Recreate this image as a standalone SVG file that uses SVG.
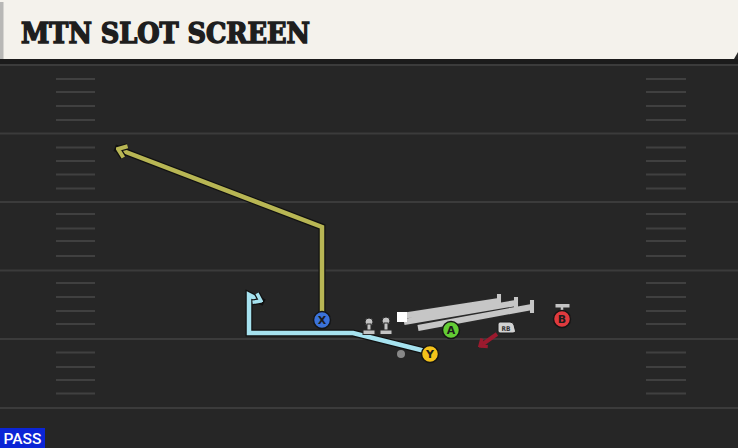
<svg xmlns="http://www.w3.org/2000/svg" width="738" height="448" viewBox="0 0 738 448">
<defs>
<style>
.yard{stroke:#3b3b3b;stroke-width:2}
.hash{stroke:#404040;stroke-width:2}
.out{fill:none;stroke:#111;stroke-linejoin:miter;stroke-linecap:square}
.yl{fill:none;stroke:#b8b654;stroke-width:4.5;stroke-linejoin:miter}
.bl{fill:none;stroke:#a6e2ef;stroke-width:4.5;stroke-linejoin:miter}
.gr{fill:none;stroke:#c6c6c6;stroke-width:6;stroke-linecap:butt}
.grout{fill:none;stroke:#2a2a2a;stroke-width:8}
.lbl{font-family:"DejaVu Sans","Liberation Sans",sans-serif;font-weight:bold;font-size:11px;fill:#1c1c1c;text-anchor:middle}
.pc{stroke:#151515;stroke-width:1.5}
.ol{fill:#c4c4c4;stroke:#2a2a2a;stroke-width:1}
</style>
<marker id="ay" markerUnits="userSpaceOnUse" viewBox="-12 -9 14 18" markerWidth="14" markerHeight="18" refX="0" refY="0" orient="auto">
<path d="M-8,-6 L0,0 L-8,6" fill="none" stroke="#111" stroke-width="6.5"/>
<path d="M-8,-6 L0,0 L-8,6" fill="none" stroke="#b8b654" stroke-width="4"/>
</marker>
<marker id="ab" markerUnits="userSpaceOnUse" viewBox="-12 -9 14 18" markerWidth="14" markerHeight="18" refX="0" refY="0" orient="auto">
<path d="M-7,-5 L0,0 L-7,5" fill="none" stroke="#111" stroke-width="6"/>
<path d="M-7,-5 L0,0 L-7,5" fill="none" stroke="#a6e2ef" stroke-width="3.5"/>
</marker>
<marker id="ar" markerUnits="userSpaceOnUse" viewBox="-12 -9 14 18" markerWidth="14" markerHeight="18" refX="0" refY="0" orient="auto">
<path d="M-6,-5 L0,0 L-6,5" fill="none" stroke="#9b1a2e" stroke-width="3.5"/>
</marker>
</defs>
<rect x="0" y="0" width="738" height="448" fill="#262626"/>
<g id="field">
<line class="yard" x1="0" y1="65" x2="738" y2="65"/>
<line class="yard" x1="0" y1="133.5" x2="738" y2="133.5"/>
<line class="yard" x1="0" y1="202" x2="738" y2="202"/>
<line class="yard" x1="0" y1="270.5" x2="738" y2="270.5"/>
<line class="yard" x1="0" y1="339" x2="738" y2="339"/>
<line class="yard" x1="0" y1="408" x2="738" y2="408"/>
<g class="hash">
<line x1="56" y1="79" x2="95" y2="79"/><line x1="56" y1="92" x2="95" y2="92"/><line x1="56" y1="106" x2="95" y2="106"/><line x1="56" y1="120" x2="95" y2="120"/>
<line x1="56" y1="147.5" x2="95" y2="147.5"/><line x1="56" y1="161" x2="95" y2="161"/><line x1="56" y1="174.5" x2="95" y2="174.5"/><line x1="56" y1="188.5" x2="95" y2="188.5"/>
<line x1="56" y1="214" x2="95" y2="214"/><line x1="56" y1="228.5" x2="95" y2="228.5"/><line x1="56" y1="241" x2="95" y2="241"/><line x1="56" y1="256" x2="95" y2="256"/>
<line x1="56" y1="283" x2="95" y2="283"/><line x1="56" y1="297" x2="95" y2="297"/><line x1="56" y1="311" x2="95" y2="311"/><line x1="56" y1="324" x2="95" y2="324"/>
<line x1="56" y1="352.5" x2="95" y2="352.5"/><line x1="56" y1="367" x2="95" y2="367"/><line x1="56" y1="380" x2="95" y2="380"/><line x1="56" y1="393.5" x2="95" y2="393.5"/>
<line x1="646" y1="79" x2="686" y2="79"/><line x1="646" y1="92" x2="686" y2="92"/><line x1="646" y1="106" x2="686" y2="106"/><line x1="646" y1="120" x2="686" y2="120"/>
<line x1="646" y1="147.5" x2="686" y2="147.5"/><line x1="646" y1="161" x2="686" y2="161"/><line x1="646" y1="174.5" x2="686" y2="174.5"/><line x1="646" y1="188.5" x2="686" y2="188.5"/>
<line x1="646" y1="214" x2="686" y2="214"/><line x1="646" y1="228.5" x2="686" y2="228.5"/><line x1="646" y1="241" x2="686" y2="241"/><line x1="646" y1="256" x2="686" y2="256"/>
<line x1="646" y1="283" x2="686" y2="283"/><line x1="646" y1="297" x2="686" y2="297"/><line x1="646" y1="311" x2="686" y2="311"/><line x1="646" y1="324" x2="686" y2="324"/>
<line x1="646" y1="352.5" x2="686" y2="352.5"/><line x1="646" y1="367" x2="686" y2="367"/><line x1="646" y1="380" x2="686" y2="380"/><line x1="646" y1="393.5" x2="686" y2="393.5"/>
</g>
</g>
<g id="header">
<rect x="0" y="59" width="738" height="5" fill="#1b1b1b"/>
<path d="M0,0 H738 V52 L734,59 H0 Z" fill="#f4f2ec"/>
<rect x="0" y="2" width="3.5" height="57" fill="#b8b8b6"/>
<text x="21" y="43" font-family="'DejaVu Serif Condensed','DejaVu Serif',serif" font-weight="bold" font-size="28" fill="#1e1e1e" stroke="#1e1e1e" stroke-width="1.4" stroke-linejoin="miter" textLength="289" lengthAdjust="spacingAndGlyphs">MTN SLOT SCREEN</text>
</g>
<g id="connectors">
<path d="M322,316 V227 L118,149" class="out" stroke-width="7"/>
<path d="M322,316 V227 L118,149" class="yl" marker-end="url(#ay)"/>
<path d="M425,351 L353,333 H249 V295 L261,301" class="out" stroke-width="7"/>
<path d="M425,351 L353,333 H249 V295 L261,301" class="bl" marker-end="url(#ab)"/>
<path d="M402,316 L499,301 M404,322 L516,303 M418,328 L532,307" class="grout"/>
<path d="M499,294 V306 M516,297 V309 M532,300 V313" stroke="#2a2a2a" stroke-width="6" fill="none"/>
<path d="M402,316 L499,301 M404,322 L516,303 M418,328 L532,307" class="gr"/>
<path d="M499,294 V306 M516,297 V309 M532,300 V313" stroke="#c6c6c6" stroke-width="4" fill="none"/>
<rect x="397" y="312" width="10" height="10" fill="#ffffff"/>
<path d="M497,334 L480,346" stroke="#9b1a2e" stroke-width="4" fill="none" marker-end="url(#ar)"/>
<path d="M562,306 V312" stroke="#c4c4c4" stroke-width="2.5"/>
<rect x="555.5" y="304" width="14" height="3.5" fill="#c4c4c4"/>
</g>
<g id="line-left">
<circle cx="369" cy="322" r="4" class="ol"/>
<rect x="367" y="324" width="4" height="7" class="ol"/>
<rect x="363" y="330" width="12" height="4.5" class="ol"/>
</g>
<g id="line-right">
<circle cx="386" cy="321" r="4" class="ol"/>
<rect x="384" y="323" width="4" height="8" class="ol"/>
<rect x="380" y="330" width="12" height="4.5" class="ol"/>
</g>
<g id="ball">
<circle cx="401" cy="354" r="4" fill="#888"/>
</g>
<g id="X">
<circle cx="322" cy="320" r="8.5" fill="#3b72d9" class="pc"/>
<text x="322" y="324" class="lbl">X</text>
</g>
<g id="Y">
<circle cx="430" cy="354" r="8.5" fill="#f4c21a" class="pc"/>
<text x="430" y="358" class="lbl">Y</text>
</g>
<g id="A">
<circle cx="451" cy="330" r="8.5" fill="#63cc34" class="pc"/>
<text x="451" y="334" class="lbl">A</text>
</g>
<g id="B">
<circle cx="562" cy="319" r="8.5" fill="#e03a3e" class="pc"/>
<text x="562" y="323" class="lbl">B</text>
</g>
<g id="RB">
<path d="M498,324 Q498,322 500,322 H510 Q513,322 514,325 L515.5,331 Q516,333 513,333 H500 Q498,333 498,331 Z" fill="#d2d2d2" stroke="#1a1a1a" stroke-width="1"/>
<text x="506" y="331" font-family="'DejaVu Sans Condensed','DejaVu Sans',sans-serif" font-weight="bold" font-size="6.5" fill="#333" text-anchor="middle">RB</text>
</g>
<g id="pass">
<rect x="0" y="428" width="45" height="20" fill="#0b25d6"/>
<text x="22.5" y="444" font-family="'Roboto','Liberation Sans',sans-serif" font-weight="500" font-size="14.5" fill="#ffffff" text-anchor="middle" textLength="38" lengthAdjust="spacingAndGlyphs">PASS</text>
</g>
</svg>
